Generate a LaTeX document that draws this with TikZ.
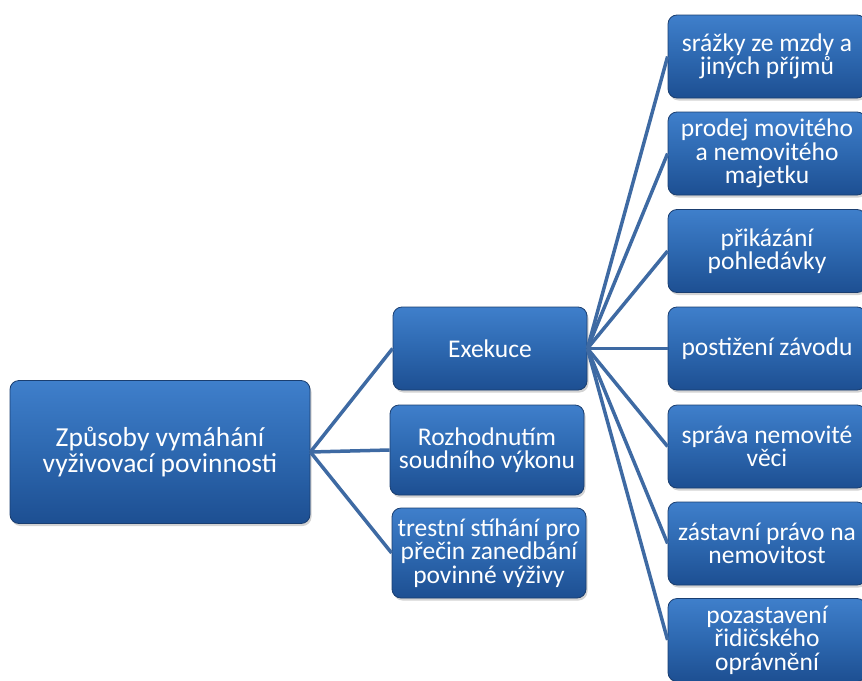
\documentclass[tikz,border=0pt]{standalone}
\usepackage{fontspec}
\setmainfont{Carlito}
\usetikzlibrary{shadows}
\definecolor{boxtop}{HTML}{3F7FCB}
\definecolor{boxmid}{HTML}{2D68B0}
\definecolor{boxbot}{HTML}{1D4F92}
\definecolor{boxline}{HTML}{1A3E70}
\definecolor{linkblue}{HTML}{3E6AA3}
\begin{document}
\begin{tikzpicture}[x=1pt, y=-1pt,
  box/.style = {shape=rectangle, rounded corners=9pt,
    draw=boxline, line width=0.8pt, align=center, text=white, inner sep=1pt,
    top color=boxtop, bottom color=boxbot, middle color=boxmid,
    drop shadow={opacity=0.35, shadow xshift=1.5pt, shadow yshift=-2.5pt},
    font=\fontsize{25.5}{23.5}\selectfont},
  midbox/.style = {box, minimum width=194pt, minimum height=86pt},
  leafbox/.style = {box, minimum width=198pt, minimum height=83pt},
  link/.style = {draw=linkblue, line width=3.5pt}]
  \useasboundingbox (0,0) rectangle (862,680);
  \node[box, minimum width=300pt, minimum height=143pt,
    font=\fontsize{27.5}{26}\selectfont] (root) at (160,452)
    {Způsoby vymáhání\\vyživovací povinnosti};
  \node[midbox, minimum height=83pt] (exek) at (490,348.5) {Exekuce};
  \node[midbox, minimum height=90pt] (rozh) at (487,450) {Rozhodnutím\\soudního výkonu};
  \node[midbox, minimum height=90pt] (trest) at (489,553) {trestní stíhání pro\\přečin zanedbání\\povinné výživy};
  \node[leafbox] (srazky)  at (767,56.5)  {srážky ze mzdy a\\jiných příjmů};
  \node[leafbox] (prodej)  at (767,153.5) {prodej movitého\\a nemovitého\\majetku};
  \node[leafbox] (prikaz)  at (767,251)   {přikázání\\pohledávky};
  \node[leafbox] (zavod)   at (767,348.5) {postižení závodu};
  \node[leafbox] (sprava)  at (767,446.5) {správa nemovité\\věci};
  \node[leafbox] (zastava) at (767,543.5) {zástavní právo na\\nemovitost};
  \node[leafbox] (ridic)   at (767,640)   {pozastavení\\řidičského\\oprávnění};
  \foreach \n in {exek,rozh,trest}
    \draw[link] (root.east) -- (\n.west);
  \foreach \n in {srazky,prodej,prikaz,zavod,sprava,zastava,ridic}
    \draw[link] (exek.east) -- (\n.west);
\end{tikzpicture}
\end{document}
